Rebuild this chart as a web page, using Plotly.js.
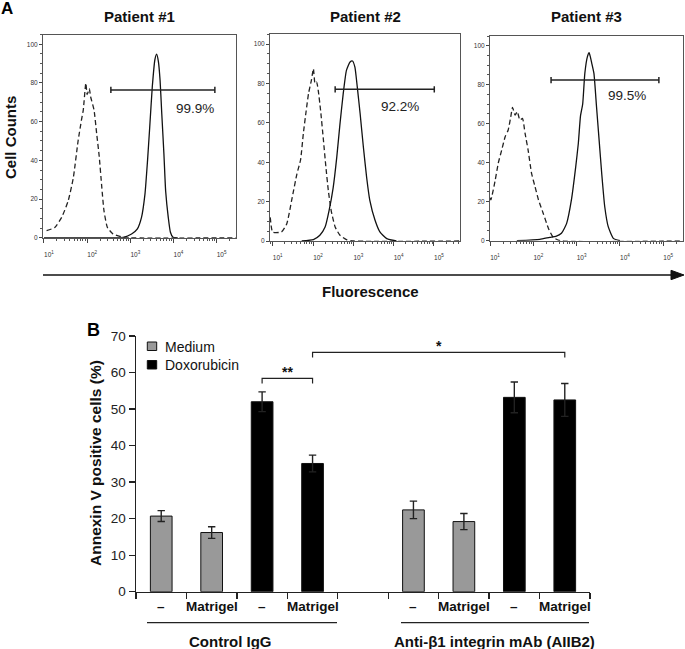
<!DOCTYPE html>
<html><head><meta charset="utf-8">
<script src="https://cdn.plot.ly/plotly-3.0.1.min.js"></script>
<style>html,body{margin:0;padding:0;background:#fff}#chart{width:685px;height:649px}</style>
</head><body><div id="chart"></div>
<script>
// ---------------- Panel A: flow cytometry histograms ----------------
// x values are log10(fluorescence), y values are cell counts
const patients = ['Patient #1', 'Patient #2', 'Patient #3'];

const p1DashX = [1.06,1.25,1.41,1.56,1.68,1.79,1.87,1.91,1.97,2.00,2.05,2.08,2.16,2.22,2.28,2.34,2.39,2.47,2.60,2.84,3.0,5.5];
const p1DashY = [3.6,5.3,10.5,19,31,50,61,66,80,74,77,73,66,54,42,26,14,5.3,1.9,0.2,0,0];
const p1SolidX = [1.0,2.60,2.84,3.03,3.16,3.26,3.34,3.40,3.45,3.51,3.57,3.61,3.65,3.69,3.73,3.78,3.82,3.88,3.93,3.99,4.1];
const p1SolidY = [0,0,0.2,1.9,4.4,10.5,22.5,40,57,78,92,94.9,91.3,81.5,64,43,24,10.5,2.8,0.2,0];

const p2DashX = [0.94,1.0,1.22,1.35,1.47,1.60,1.69,1.76,1.83,1.89,1.96,2.01,2.05,2.09,2.13,2.19,2.26,2.32,2.38,2.45,2.55,2.67,2.83,3.0,5.7];
const p2DashY = [12,4.5,4.6,8.8,20.6,34,41,54.5,66,75,81.6,87.5,80,80.7,76.5,66,51,37.6,25.7,15.6,7.1,2.9,0.7,0,0];
const p2SolidX = [1.72,2.01,2.17,2.30,2.40,2.50,2.59,2.67,2.75,2.83,2.92,2.98,3.04,3.10,3.17,3.25,3.33,3.41,3.54,3.66,3.83,4.07];
const p2SolidY = [0,0.7,2.9,7.1,15.6,27,42.6,59.6,74.8,86.6,90.9,91.4,88.3,78,64.6,47.7,32.5,20.6,10.5,4.6,1.2,0];

const p3DashX = [1.0,1.02,1.12,1.19,1.27,1.35,1.42,1.48,1.52,1.58,1.63,1.69,1.75,1.81,1.88,1.96,2.04,2.12,2.23,2.35,2.46,2.62,5.5];
const p3DashY = [22,20.9,31,39.7,46.5,53.3,56.8,63.6,68.4,64.4,66.2,61.9,62.7,55,46.5,34.5,27.7,20.9,14,6.3,1.7,0,0];
const p3SolidX = [1.62,2.15,2.38,2.52,2.65,2.77,2.88,2.98,3.04,3.09,3.14,3.19,3.25,3.29,3.35,3.40,3.46,3.52,3.58,3.65,3.73,3.85,4.0];
const p3SolidY = [0,0.7,1.7,2.2,3.8,8.9,20.9,38,50,64,70,85.8,94.4,96.4,91,85.8,68.7,51.6,34.5,17.4,7.2,1.2,0];

const gateLo = [2.55, 2.55, 2.41];
const gateHi = [4.96, 5.01, 4.90];
const gateLevel = [76.4, 77, 82.4];
const gateLabels = ['99.9%', '92.2%', '99.5%'];
const gateLabelX = [4.50, 4.17, 4.17];
const gateLabelY = [66.9, 68.4, 74.4];

const decadeTickVals = [10, 100, 1000, 10000, 100000];
const decadeTickText = ['10<sup>1</sup>', '10<sup>2</sup>', '10<sup>3</sup>', '10<sup>4</sup>', '10<sup>5</sup>'];
const countTickVals = [0, 20, 40, 60, 80, 100];

// ---------------- Panel B: Annexin V bars ----------------
const groups = ['Control IgG', 'Anti-\u03B21 integrin mAb (AIIB2)'];
const conditions = ['\u2013', 'Matrigel', '\u2013', 'Matrigel'];
const treatments = ['Medium', 'Medium', 'Doxorubicin', 'Doxorubicin'];
const controlMean = [20.7, 16.2, 52.0, 35.1];
const controlErr = [1.5, 1.6, 2.7, 2.3];
const antiMean = [22.4, 19.2, 53.2, 52.5];
const antiErr = [2.4, 2.2, 4.2, 4.5];
const annexinTicks = [0, 10, 20, 30, 40, 50, 60, 70];
// significance: [group, bar index] -> [group, bar index]
const sigFrom = [[0, 2], [0, 3]];
const sigTo = [[0, 3], [1, 3]];
const sigLevel = [58.4, 65.5];
const sigLabel = ['**', '*'];

// ---------------- drawing ----------------
const W = 685, H = 649;
const FONT = '"Liberation Sans", Arial, Helvetica, sans-serif';
const px = v => v / W;
const py = v => 1 - v / H;
const pow10 = arr => arr.map(v => (v === null ? null : Math.pow(10, v)));

const panelGeom = [
  {x0: 43, x1: 236, y0: 34.6, y1: 237.7, xr: [0.977, 5.45], title: 139},
  {x0: 270, x1: 460, y0: 34.2, y1: 241, xr: [0.933, 5.648], title: 365},
  {x0: 490, x1: 683, y0: 36, y1: 240.7, xr: [1.0, 5.457], title: 586}
];
const dashX = [p1DashX, p2DashX, p3DashX], dashY = [p1DashY, p2DashY, p3DashY];
const solidX = [p1SolidX, p2SolidX, p3SolidX], solidY = [p1SolidY, p2SolidY, p3SolidY];

const traces = [];
const layout = {
  width: W, height: H,
  margin: {l: 0, r: 0, t: 0, b: 0},
  paper_bgcolor: '#fff', plot_bgcolor: 'rgba(0,0,0,0)',
  showlegend: false,
  font: {family: FONT, color: '#111'},
  annotations: [], shapes: []
};
// paper-anchored text helper (explicit centre anchoring)
const ptext = (text, x, y, size, extra) => Object.assign({
  text: text, xref: 'paper', yref: 'paper', x: px(x), y: py(y),
  xanchor: 'center', yanchor: 'middle', showarrow: false,
  font: {size: size, family: FONT, color: '#111'}
}, extra || {});

panelGeom.forEach((g, i) => {
  const s = i === 0 ? '' : String(i + 1);
  const xa = 'x' + s, ya = 'y' + s;
  traces.push({
    x: pow10(dashX[i]), y: dashY[i], xaxis: xa, yaxis: ya, mode: 'lines',
    line: {color: '#222', width: 1.3, dash: '5px,3px', shape: 'spline', smoothing: 0.5},
    hoverinfo: 'skip'
  });
  traces.push({
    x: pow10(solidX[i]), y: solidY[i], xaxis: xa, yaxis: ya, mode: 'lines',
    line: {color: '#111', width: 1.3, shape: 'spline', smoothing: 0.5},
    hoverinfo: 'skip'
  });
  const lo = gateLo[i], hi = gateHi[i], lv = gateLevel[i], c = 1.6;
  traces.push({
    x: pow10([lo, lo, null, lo, hi, null, hi, hi]),
    y: [lv - c, lv + c, null, lv, lv, null, lv - c, lv + c],
    xaxis: xa, yaxis: ya, mode: 'lines',
    line: {color: '#222', width: 1.5}, hoverinfo: 'skip'
  });
  layout['xaxis' + s] = {
    domain: [px(g.x0), px(g.x1)], range: g.xr, type: 'log', anchor: ya,
    showline: true, mirror: true, linecolor: '#555', linewidth: 1,
    ticks: 'outside', ticklen: 4, tickcolor: '#444', tickwidth: 1,
    tickmode: 'array', tickvals: decadeTickVals, ticktext: decadeTickText,
    tickfont: {size: 6.5, color: '#333', family: FONT},
    ticklabelstandoff: 6, ticklabelshift: 5,
    minor: {ticks: 'outside', ticklen: 2, tickcolor: '#555', dtick: 'D1', showgrid: false},
    showgrid: false, zeroline: false, fixedrange: true
  };
  layout['yaxis' + s] = {
    domain: [py(g.y1), py(g.y0)], range: [0, 105], anchor: xa,
    showline: true, mirror: true, linecolor: '#555', linewidth: 1,
    ticks: 'outside', ticklen: 3, tickcolor: '#444',
    tickmode: 'array', tickvals: countTickVals,
    tickfont: {size: 6.5, color: '#333', family: FONT},
    minor: {ticks: 'outside', ticklen: 2, tickcolor: '#555', dtick: 5, showgrid: false},
    showgrid: false, zeroline: false, fixedrange: true
  };
  layout.annotations.push(ptext('<b>' + patients[i] + '</b>', g.title, 17, 15));
  layout.annotations.push({
    text: gateLabels[i], xref: xa, yref: ya, x: gateLabelX[i], y: gateLabelY[i],
    xanchor: 'center', yanchor: 'middle',
    showarrow: false, font: {size: 13.5, family: FONT, color: '#222'}
  });
});

// Panel A decorations
layout.annotations.push(
  ptext('<b>A</b>', 7, 9, 17, {font: {size: 17, family: FONT, color: '#000'}}),
  ptext('<b>Cell Counts</b>', 10, 138, 15, {textangle: -90}),
  ptext('<b>Fluorescence</b>', 370, 292, 15)
);
layout.shapes.push(
  {type: 'line', xref: 'paper', yref: 'paper', x0: px(43), x1: px(674), y0: py(275), y1: py(275), line: {color: '#111', width: 1.5}},
  {type: 'path', xref: 'paper', yref: 'paper',
   path: `M ${px(671)},${py(270.3)} L ${px(684)},${py(275)} L ${px(671)},${py(279.7)} Z`,
   fillcolor: '#111', line: {color: '#111', width: 1}}
);

// Panel B bars
const barGeom = {x0: 136, x1: 590, y0: 336, y1: 591.7};
const slotsPerGroup = conditions.length + 1;
const nSlots = groups.length * slotsPerGroup - 1;
const groupData = [[controlMean, controlErr], [antiMean, antiErr]];
const barPos = (gi, bi) => gi * slotsPerGroup + bi;
const barColors = {Medium: '#999999', Doxorubicin: '#000000'};
['Medium', 'Doxorubicin'].forEach(t => {
  const xs = [], ys = [], es = [];
  groupData.forEach((gd, gi) => {
    treatments.forEach((tr, bi) => {
      if (tr === t) { xs.push(barPos(gi, bi)); ys.push(gd[0][bi]); es.push(gd[1][bi]); }
    });
  });
  traces.push({
    type: 'bar', name: t, x: xs, y: ys, width: 0.43, xaxis: 'x4', yaxis: 'y4',
    marker: {color: barColors[t], line: {color: '#111', width: 1}},
    error_y: {type: 'data', array: es, visible: true, color: '#222', thickness: 1.4, width: 3.7},
    hoverinfo: 'skip'
  });
});
const boundaries = [];
for (let k = 0; k <= nSlots; k++) boundaries.push(k - 0.5);
layout.xaxis4 = {
  domain: [px(barGeom.x0), px(barGeom.x1)], range: [-0.5, nSlots - 0.5], anchor: 'y4',
  showline: true, linecolor: '#222', linewidth: 1.5,
  ticks: 'outside', ticklen: 6, tickwidth: 1.3, tickcolor: '#222',
  tickmode: 'array', tickvals: boundaries, showticklabels: false,
  showgrid: false, zeroline: false, fixedrange: true
};
layout.yaxis4 = {
  domain: [py(barGeom.y1), py(barGeom.y0)], range: [0, 70], anchor: 'x4',
  showline: true, linecolor: '#222', linewidth: 1.5,
  ticks: 'outside', ticklen: 6, tickwidth: 1.3, tickcolor: '#222',
  tickmode: 'array', tickvals: annexinTicks,
  tickfont: {size: 13.5, color: '#222', family: FONT},
  showgrid: false, zeroline: false, fixedrange: true
};
// condition labels under bars
groups.forEach((gname, gi) => {
  conditions.forEach((c, bi) => {
    layout.annotations.push({
      text: '<b>' + c + '</b>', xref: 'x4', yref: 'paper', x: barPos(gi, bi), y: py(606.5),
      xanchor: 'center', yanchor: 'middle',
      showarrow: false, font: {size: 13.5, family: FONT, color: '#111'}
    });
  });
});
// group underlines + labels
const groupLine = [[147, 337, 230.5], [401, 589, 494.5]];
groups.forEach((gname, gi) => {
  const gl = groupLine[gi];
  layout.shapes.push({type: 'line', xref: 'paper', yref: 'paper', x0: px(gl[0]), x1: px(gl[1]), y0: py(622.7), y1: py(622.7), line: {color: '#222', width: 1.2}});
  layout.annotations.push(ptext('<b>' + gname + '</b>', gl[2], 641.5, 15));
});
// significance brackets
sigLabel.forEach((lab, k) => {
  const xa = barPos(sigFrom[k][0], sigFrom[k][1]);
  const xb = barPos(sigTo[k][0], sigTo[k][1]);
  const lv = sigLevel[k], leg = 1.4;
  layout.shapes.push({
    type: 'path', xref: 'x4', yref: 'y4',
    path: `M ${xa},${lv - leg} L ${xa},${lv} L ${xb},${lv} L ${xb},${lv - leg}`,
    line: {color: '#222', width: 1.2}
  });
  layout.annotations.push({
    text: '<b>' + lab + '</b>', xref: 'x4', yref: 'y4', x: (xa + xb) / 2, y: lv,
    xanchor: 'center', yanchor: 'bottom', yshift: -4, showarrow: false,
    font: {size: 14, family: FONT, color: '#111'}
  });
});
// custom legend
['Medium', 'Doxorubicin'].forEach((t, k) => {
  const top = 342 + k * 18.5;
  layout.shapes.push({type: 'rect', xref: 'paper', yref: 'paper', x0: px(147.3), x1: px(156.7), y0: py(top), y1: py(top + 8.5),
    fillcolor: barColors[t], line: {color: '#111', width: 1}});
  layout.annotations.push(ptext(t, 162.5, top + 4.5, 14, {xanchor: 'left'}));
});
layout.annotations.push(
  ptext('<b>B</b>', 93, 329.5, 18, {font: {size: 18, family: FONT, color: '#000'}}),
  ptext('<b>Annexin V positive cells (%)</b>', 95, 463, 15.5, {textangle: -90})
);

Plotly.newPlot('chart', traces, layout, {staticPlot: true, displayModeBar: false});
</script>
</body></html>
